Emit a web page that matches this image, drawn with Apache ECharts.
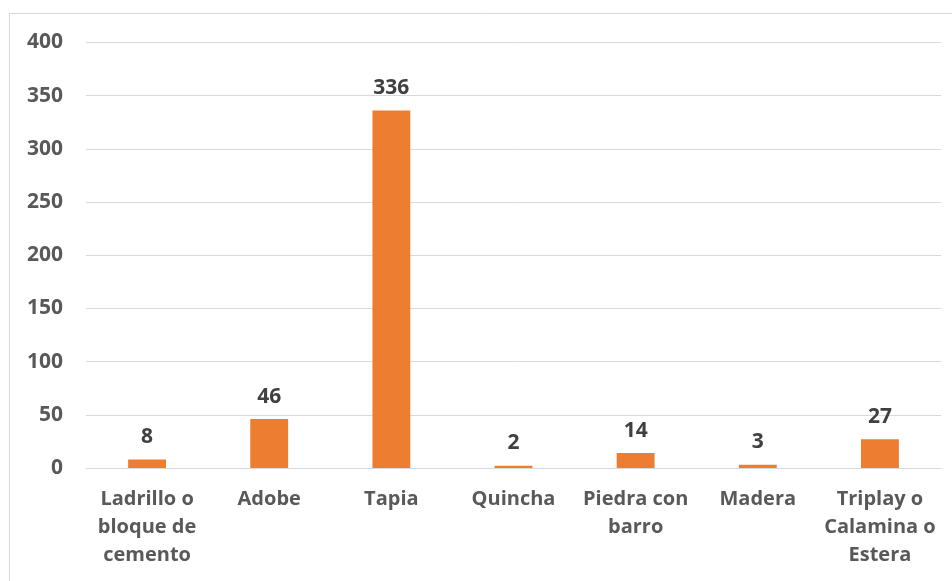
<!DOCTYPE html>
<html><head><meta charset="utf-8">
<script src="https://cdn.jsdelivr.net/npm/echarts@6/dist/echarts.min.js"></script>
<style>html,body{margin:0;padding:0;background:#fff}#c{width:952px;height:581px}</style>
</head><body><div id="c"></div>
<script>
const categories = ['Ladrillo o\nbloque de\ncemento', 'Adobe', 'Tapia', 'Quincha', 'Piedra con\nbarro', 'Madera', 'Triplay o\nCalamina o\nEstera'];
const values = [8, 46, 336, 2, 14, 3, 27];
const yTicks = { min: 0, max: 400, interval: 50 };

const FONT = '"Open Sans", "Liberation Sans", sans-serif';
const chart = echarts.init(document.getElementById('c'), null, { renderer: 'canvas' });
chart.setOption({
  animation: false,
  backgroundColor: '#fff',
  graphic: [{
    type: 'rect', shape: { x: 9.5, y: 13.5, width: 1000, height: 1000 },
    style: { fill: 'none', stroke: '#D9D9D9', lineWidth: 1 }, z: -1
  }],
  grid: { left: 86, right: 11, top: 42.5, bottom: 113, outerBoundsMode: 'none', containLabel: false },
  xAxis: {
    type: 'category', data: categories,
    axisLine: { show: true, lineStyle: { color: '#D9D9D9', width: 1 } },
    axisTick: { show: false },
    axisLabel: { color: '#595959', fontFamily: FONT, fontWeight: 'bold', fontSize: 20, lineHeight: 28, margin: 17, interval: 0 }
  },
  yAxis: {
    type: 'value', min: yTicks.min, max: yTicks.max, interval: yTicks.interval,
    axisLine: { show: false }, axisTick: { show: false },
    splitLine: { lineStyle: { color: '#D9D9D9', width: 1 } },
    axisLabel: { color: '#595959', fontFamily: FONT, fontWeight: 'bold', fontSize: 21, margin: 23 }
  },
  series: [{
    type: 'bar', data: values, barWidth: '31%',
    itemStyle: { color: '#ED7D31' },
    label: { show: true, position: 'top', distance: 12, color: '#404040', fontFamily: FONT, fontWeight: 'bold', fontSize: 21 }
  }]
});
</script></body></html>
